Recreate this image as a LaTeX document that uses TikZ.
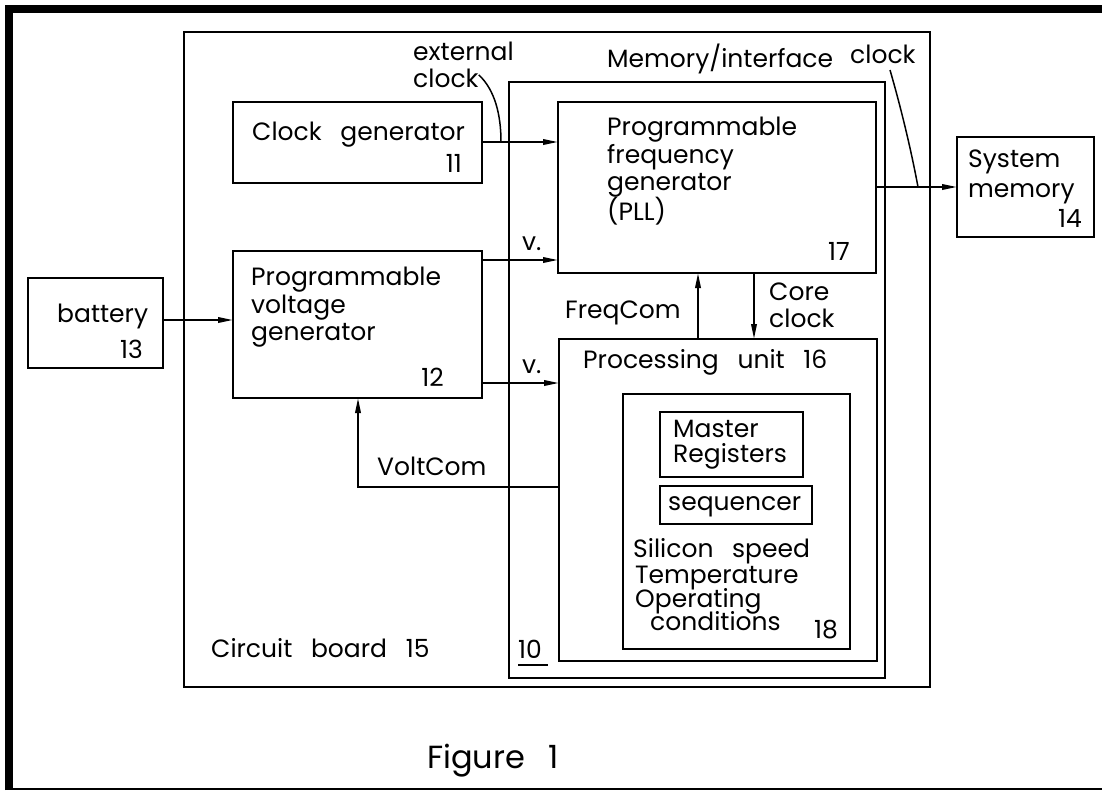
\documentclass[tikz,border=0pt]{standalone}
\usepackage{fontspec}
\setmainfont{Poppins}[WordSpace=2.8]
\usetikzlibrary{arrows.meta}
\newcommand{\fsz}{\fontsize{25}{29}\selectfont}
\tikzset{
  box/.style={draw, line width=1.9pt, anchor=north west, inner sep=0pt, outer sep=0pt},
  txt/.style={anchor=base west, inner sep=0pt, font=\fsz},
  num/.style={anchor=base east, inner sep=0pt, font=\fsz},
  arr/.style={line width=1.9pt, -{Triangle[length=15pt,width=5.5pt]}},
}
\begin{document}
\begin{tikzpicture}[x=1pt,y=-1pt]
\useasboundingbox (0,0) rectangle (1102,790);
% frame
\draw[line width=8pt] (9,790) -- (9,9) -- (1102,9);
\draw[line width=1.5pt] (5,789) -- (1102,789);

% boxes
\node[box, minimum width=746pt, minimum height=655pt] (board) at (184,32) {};
\node[box, minimum width=249pt, minimum height=81pt] (clk) at (233,102) {};
\node[box, minimum width=249pt, minimum height=147pt] (vgen) at (233,251) {};
\node[box, minimum width=135pt, minimum height=90pt] (batt) at (28,278) {};
\node[box, minimum width=376pt, minimum height=596pt] (mem) at (509,82) {};
\node[box, minimum width=318pt, minimum height=171pt] (pll) at (558,102) {};
\node[box, minimum width=318pt, minimum height=322pt] (pu) at (559,339) {};
\node[box, minimum width=227pt, minimum height=255pt] (b18) at (623,394) {};
\node[box, minimum width=143pt, minimum height=65pt] (mreg) at (660,412) {};
\node[box, minimum width=152pt, minimum height=38pt] (seq) at (660,486) {};
\node[box, minimum width=137pt, minimum height=100pt] (sysm) at (957,137) {};

% texts
\node[txt] (tclk) at (252,140) {Clock generator};
\node[num] (n11) at (462,172) {11};
\node[txt] (tv1) at (251,285) {Programmable};
\node[txt] (tv2) at (251,313) {voltage};
\node[txt] (tv3) at (251,340) {generator};
\node[num] (n12) at (444,386) {12};
\node[txt] (tb) at (57,322) {battery};
\node[num] (n13) at (143,358) {13};
\node[txt] (tp1) at (607,135) {Programmable};
\node[txt] (tp2) at (607,163) {frequency};
\node[txt] (tp3) at (607,190) {generator};
\node[txt] (tp4) at (607,220) {(PLL)};
\node[num] (n17) at (850,260) {17};
\node[txt] (te1) at (413,60) {external};
\node[txt] (te2) at (413,87) {clock};
\node[txt] (tmi) at (607,67) {Memory/interface};
\node[txt] (tmc) at (850,63) {clock};
\node[txt] (ts1) at (968,167) {System};
\node[txt] (ts2) at (968,197) {memory};
\node[num] (n14) at (1082,227) {14};
\node[txt] (tfc) at (565,318) {FreqCom};
\node[txt] (tcc1) at (769,300) {Core};
\node[txt] (tcc2) at (769,327) {clock};
\node[txt] (tpu) at (583,368) {Processing unit 16};
\node[txt] (tm1) at (673,437) {Master};
\node[txt] (tm2) at (673,462) {Registers};
\node[txt] (tseq) at (668,510) {sequencer};
\node[txt] (tc1) at (633,557) {Silicon speed};
\node[txt] (tc2) at (635,583) {Temperature};
\node[txt] (tc3) at (635,607) {Operating};
\node[txt] (tc4) at (650,630) {conditions};
\node[num] (n18) at (838,638) {18};
\node[txt] (tvc) at (377,475) {VoltCom};
\node[txt] (tcb) at (211,657) {Circuit board 15};
\node[txt] (t10) at (518,658) {10};
\draw[line width=1.9pt] (t10.base west) ++(0,7) -- ++(30,0);
\node[txt] (tva) at (522,250) {v.};
\node[txt] (tvb) at (522,373) {v.};
\node[anchor=base west, inner sep=0pt, font=\fontsize{32}{36}\selectfont] (fig) at (427,768) {Figure 1};

% connectors
\coordinate (a1) at (482,142);
\draw[arr] (a1) -- (a1 -| pll.west);
\coordinate (a2) at (482,260);
\draw[arr] (a2) -- (a2 -| pll.west);
\coordinate (a3) at (482,383);
\draw[arr] (a3) -- (a3 -| pu.west);
\coordinate (a4) at (163,320);
\draw[arr] (a4) -- (a4 -| vgen.west);
\coordinate (a5) at (876,187);
\draw[arr] (a5) -- (a5 -| sysm.west);
\coordinate (a6) at (698,339);
\draw[arr] (a6) -- (a6 |- pll.south);
\coordinate (a7) at (754,273);
\draw[arr] (a7) -- (a7 |- pu.north);
\coordinate (a8) at (559,487);
\coordinate (a9) at (358,487);
\draw[arr] (a8) -- (a9) -- (a9 |- vgen.south);

% leaders
\draw[line width=1.5pt] (te2.east) ++(0,-3) .. controls (495,90) and (501,115) .. (501,142);
\draw[line width=1.5pt] (890,70) .. controls (903,115) and (912,155) .. (918,187);
\end{tikzpicture}
\end{document}
